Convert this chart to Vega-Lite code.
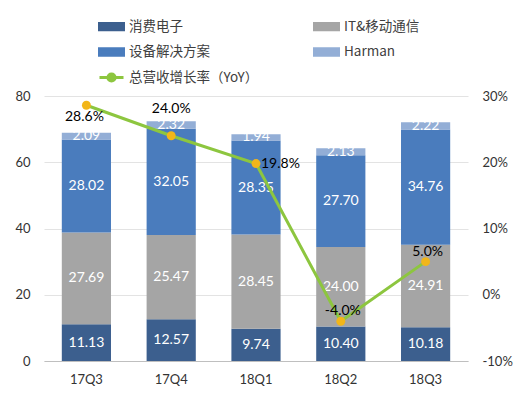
{
  "$schema": "https://vega.github.io/schema/vega-lite/v6.json",
  "width": 424,
  "height": 265,
  "autosize": "none",
  "padding": {"left": 44, "top": 96, "right": 60, "bottom": 43},
  "background": "white",
  "config": {
    "font": "Lato, Noto Sans CJK SC",
    "view": {"stroke": null},
    "axis": {"labelFont": "Lato", "labelFontSize": 13, "labelColor": "#333333", "ticks": false, "domain": false, "title": null}
  },
  "datasets": {
    "bars": [
      {"q": "17Q3", "seg": "消费电子", "v": 11.13},
      {"q": "17Q3", "seg": "IT&移动通信", "v": 27.69},
      {"q": "17Q3", "seg": "设备解决方案", "v": 28.02},
      {"q": "17Q3", "seg": "Harman", "v": 2.09},
      {"q": "17Q4", "seg": "消费电子", "v": 12.57},
      {"q": "17Q4", "seg": "IT&移动通信", "v": 25.47},
      {"q": "17Q4", "seg": "设备解决方案", "v": 32.05},
      {"q": "17Q4", "seg": "Harman", "v": 2.32},
      {"q": "18Q1", "seg": "消费电子", "v": 9.74},
      {"q": "18Q1", "seg": "IT&移动通信", "v": 28.45},
      {"q": "18Q1", "seg": "设备解决方案", "v": 28.35},
      {"q": "18Q1", "seg": "Harman", "v": 1.94},
      {"q": "18Q2", "seg": "消费电子", "v": 10.40},
      {"q": "18Q2", "seg": "IT&移动通信", "v": 24.00},
      {"q": "18Q2", "seg": "设备解决方案", "v": 27.70},
      {"q": "18Q2", "seg": "Harman", "v": 2.13},
      {"q": "18Q3", "seg": "消费电子", "v": 10.18},
      {"q": "18Q3", "seg": "IT&移动通信", "v": 24.91},
      {"q": "18Q3", "seg": "设备解决方案", "v": 34.76},
      {"q": "18Q3", "seg": "Harman", "v": 2.22}
    ],
    "growth": [
      {"q": "17Q3", "g": 28.6, "pos": "below"},
      {"q": "17Q4", "g": 24.0, "pos": "high"},
      {"q": "18Q1", "g": 19.8, "pos": "right"},
      {"q": "18Q2", "g": -4.0, "pos": "above"},
      {"q": "18Q3", "g": 5.0, "pos": "above"}
    ]
  },
  "encoding": {
    "x": {"field": "q", "type": "nominal", "sort": null, "scale": {"paddingInner": 0.42, "paddingOuter": 0.21},
      "axis": {"labelAngle": 0, "labelPadding": 12, "domain": true, "domainColor": "#BFBFBF", "domainWidth": 1.2}}
  },
  "layer": [
    {
      "data": {"name": "bars"},
      "transform": [
        {"calculate": "indexof(['消费电子','IT&移动通信','设备解决方案','Harman'], datum.seg)", "as": "ord"},
        {"stack": "v", "groupby": ["q"], "sort": [{"field": "ord", "order": "ascending"}], "as": ["v0", "v1"]},
        {"calculate": "(datum.v0 + datum.v1) / 2", "as": "mid"}
      ],
      "layer": [
        {
          "mark": {"type": "bar"},
          "encoding": {
            "y": {"field": "v0", "type": "quantitative", "scale": {"domain": [0, 80]},
              "axis": {"values": [0, 20, 40, 60, 80], "grid": true, "gridColor": "#E3E3E3", "labelPadding": 14}},
            "y2": {"field": "v1"},
            "color": {"field": "seg", "type": "nominal",
              "scale": {"domain": ["消费电子", "IT&移动通信", "设备解决方案", "Harman", "总营收增长率（YoY）"],
                "range": ["#3C5F8E", "#A5A5A5", "#4A7CBD", "#93AED6", "#8DC63F"]},
              "legend": {
                "orient": "none", "legendX": 54, "legendY": -83, "columns": 2, "direction": "horizontal", "columnPadding": 49, "rowPadding": 2.5,
                "title": null, "symbolSize": 576, "labelFontSize": 13.5, "labelFont": "Noto Sans CJK SC", "labelColor": "#404040", "labelOffset": 4,
                "symbolType": "M-1,-0.27H1V0.27H-1Z",
                "encode": {"symbols": {"update": {
                  "shape": {"signal": "datum.value === '总营收增长率（YoY）' ? 'M-1,0H-0.3M0.3,0H1M0.3,0A0.3,0.3,0,1,1,-0.3,0A0.3,0.3,0,1,1,0.3,0Z' : 'M-1,-0.27H1V0.27H-1Z'"},
                  "fill": {"signal": "datum.value === '总营收增长率（YoY）' ? '#F2B619' : scale('color', datum.value)"},
                  "stroke": {"signal": "datum.value === '总营收增长率（YoY）' ? '#8DC63F' : 'transparent'"},
                  "strokeWidth": {"value": 3},
                  "opacity": {"value": 1}
                }}}
              }
            }
          }
        },
        {
          "mark": {"type": "text", "color": "white", "fontSize": 14, "font": "Lato"},
          "encoding": {
            "y": {"field": "mid", "type": "quantitative", "scale": {"domain": [0, 80]}},
            "text": {"field": "v", "type": "quantitative", "format": ".2f"}
          }
        }
      ]
    },
    {
      "data": {"name": "growth"},
      "transform": [
        {"calculate": "(datum.g < 0 ? '-' : '') + format(abs(datum.g), '.1f') + '%'", "as": "lbl"}
      ],
      "encoding": {
        "y": {"field": "g", "type": "quantitative", "scale": {"domain": [-10, 30]},
          "axis": {"orient": "right", "values": [-10, 0, 10, 20, 30], "labelExpr": "datum.value + '%'", "labelPadding": 14, "grid": false}}
      },
      "layer": [
        {
          "mark": {"type": "line", "color": "#8DC63F", "strokeWidth": 3},
          "encoding": {"color": {"datum": "总营收增长率（YoY）"}}
        },
        {
          "mark": {"type": "point", "filled": true, "fill": "#F2B619", "size": 80, "opacity": 1}
        },
        {
          "transform": [{"filter": "datum.pos === 'above'"}],
          "mark": {"type": "text", "dy": -10, "dx": 2, "fontSize": 14, "color": "black", "font": "Lato"},
          "encoding": {"text": {"field": "lbl"}}
        },
        {
          "transform": [{"filter": "datum.pos === 'high'"}],
          "mark": {"type": "text", "dy": -27, "fontSize": 14, "color": "black", "font": "Lato"},
          "encoding": {"text": {"field": "lbl"}}
        },
        {
          "transform": [{"filter": "datum.pos === 'below'"}],
          "mark": {"type": "text", "dy": 12, "dx": -2, "fontSize": 14, "color": "black", "font": "Lato"},
          "encoding": {"text": {"field": "lbl"}}
        },
        {
          "transform": [{"filter": "datum.pos === 'right'"}],
          "mark": {"type": "text", "dx": 5, "align": "left", "fontSize": 14, "color": "black", "font": "Lato"},
          "encoding": {"text": {"field": "lbl"}}
        }
      ]
    }
  ],
  "resolve": {"scale": {"y": "independent"}}
}
